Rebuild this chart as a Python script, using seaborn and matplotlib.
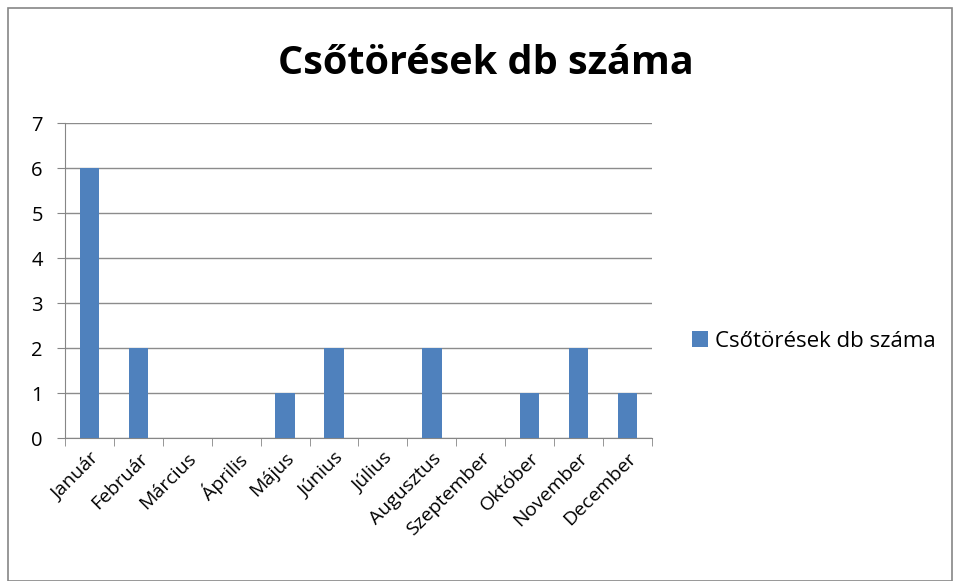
import matplotlib
matplotlib.use("Agg")
import matplotlib.pyplot as plt
import seaborn as sns
import pandas as pd
from matplotlib.patches import Rectangle
from matplotlib.ticker import FixedLocator

# adatok
honapok = ["Január", "Február", "Március", "Április", "Május", "Június",
           "Július", "Augusztus", "Szeptember", "Október", "November", "December"]
darab = [6, 2, 0, 0, 1, 2, 0, 2, 0, 1, 2, 1]
sorozat = "Csőtörések db száma"

df = pd.DataFrame({"honap": honapok, "db": darab})

sns.set_style("white")
plt.rcParams['font.family'] = ['Open Sans', 'DejaVu Sans']
plt.rcParams['text.color'] = 'black'

fig = plt.figure(figsize=(9.56, 5.81), dpi=100)
ax = fig.add_axes([0.068, 0.246, 0.614, 0.542])

sns.barplot(data=df, x="honap", y="db", color="#4F81BD", saturation=1,
            width=0.4, ax=ax, label=sorozat, zorder=3, linewidth=0)

ax.set_ylim(0, 7)
ax.set_xlim(-0.5, 11.5)
ax.set_yticks(range(0, 8))
ax.yaxis.grid(True, color="#8C8C8C", linewidth=1, zorder=0)
ax.set_xlabel("")
ax.set_ylabel("")
for s in ["top", "right"]:
    ax.spines[s].set_visible(False)
ax.spines["left"].set_color("#868686")
ax.spines["bottom"].set_color("#868686")

ax.tick_params(axis="y", length=6, color="#868686", labelsize=14.5, pad=10,
               left=True, labelcolor="black")
ax.tick_params(axis="x", length=0, labelsize=14, pad=8, labelcolor="black")
ax.set_xticks(range(len(honapok)))
ax.set_xticklabels(honapok, rotation=45, ha="right", rotation_mode="anchor")
ax.xaxis.set_minor_locator(FixedLocator([i - 0.5 for i in range(13)]))
ax.tick_params(axis="x", which="minor", length=6, color="#868686", bottom=True)

fig.suptitle(sorozat, fontsize=28.5, fontweight="bold", y=0.925, x=0.508, color="black")

ax.legend(loc="center left", bbox_to_anchor=(0.703, 0.413), bbox_transform=fig.transFigure,
          frameon=False, fontsize=16, handlelength=0.7, handleheight=0.7,
          handletextpad=0.35, labelcolor="black")

fig.patches.append(Rectangle((0.008, 0.0), 0.988, 0.986, transform=fig.transFigure,
                             fill=False, edgecolor="#868686", linewidth=1.2))

fig.savefig("out.png", dpi=100)
